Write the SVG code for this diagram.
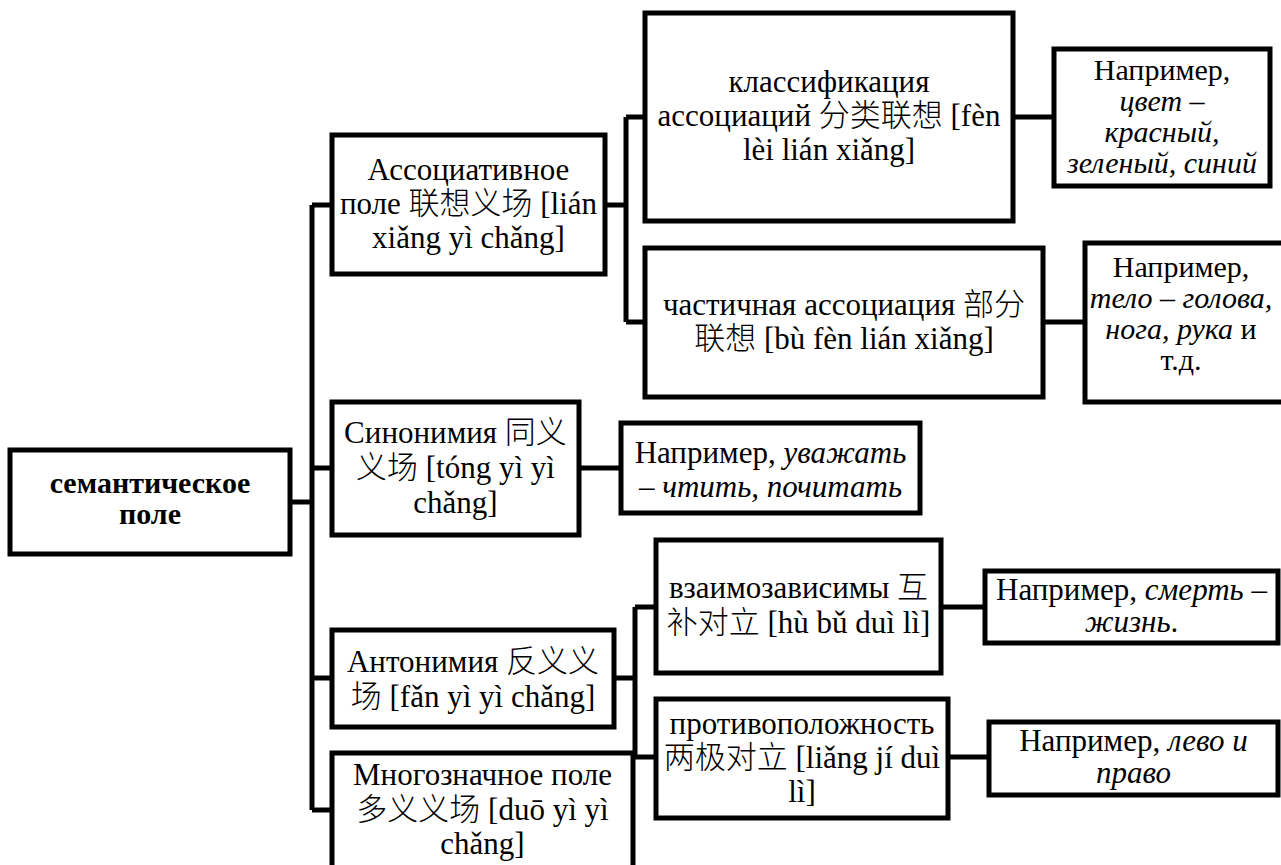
<svg xmlns="http://www.w3.org/2000/svg" width="1281" height="865" viewBox="0 0 1281 865">
<style>
rect.box{fill:#fff;stroke:#000;stroke-width:5}
#connectors path{fill:none;stroke:#000;stroke-width:5}
text{font-family:"Liberation Serif","Noto Sans CJK SC",serif;font-size:31px;font-weight:300;fill:#000;text-anchor:middle}
text.b{font-weight:bold;font-size:30px}
text.s{font-size:30px}
.i{font-style:italic}
</style>
<rect width="1281" height="865" fill="#fff"/>
<g id="connectors">
<path d="M290,502H312M312,205V810M312,205H332M312,468H332M312,678H332M312,810H332"/>
<path d="M605,205H626M626,117V322M626,117H645M626,322H645"/>
<path d="M1013,117H1054M1043,322H1085M579,468H621"/>
<path d="M614,678H635M635,607V757M635,607H656M635,757H656"/>
<path d="M941,607H985M948,757H989"/>
</g>
<g id="root"><rect class="box" x="10" y="450" width="280" height="104"/>
<text class="b"><tspan x="150" y="493">семантическое</tspan><tspan x="150" y="524">поле</tspan></text></g>
<g id="assoc"><rect class="box" x="332" y="135" width="273" height="139"/>
<text><tspan x="468.5" y="180">Ассоциативное</tspan><tspan x="468.5" y="214">поле 联想义场 [lián</tspan><tspan x="468.5" y="248">xiǎng yì chǎng]</tspan></text></g>
<g id="classif"><rect class="box" x="645" y="13" width="368" height="208"/>
<text><tspan x="829" y="92">классификация</tspan><tspan x="829" y="126">ассоциаций 分类联想 [fèn</tspan><tspan x="829" y="160">lèi lián xiǎng]</tspan></text></g>
<g id="ex1"><rect class="box" x="1054" y="49" width="216" height="137"/>
<text class="s"><tspan x="1162" y="80">Например,</tspan><tspan x="1162" y="111" class="i">цвет –</tspan><tspan x="1162" y="142" class="i">красный,</tspan><tspan x="1162" y="173" class="i">зеленый, синий</tspan></text></g>
<g id="partial"><rect class="box" x="645" y="248" width="398" height="149"/>
<text><tspan x="844" y="315">частичная ассоциация 部分</tspan><tspan x="844" y="349">联想 [bù fèn lián xiǎng]</tspan></text></g>
<g id="ex2"><rect class="box" x="1085" y="243" width="210" height="159"/>
<text class="s"><tspan x="1181" y="277">Например,</tspan><tspan x="1181" y="308" class="i">тело – голова,</tspan><tspan x="1181" y="339"><tspan class="i">нога, рука</tspan> и</tspan><tspan x="1181" y="370">т.д.</tspan></text></g>
<g id="synonym"><rect class="box" x="332" y="402" width="247" height="133"/>
<text><tspan x="455.5" y="443">Синонимия 同义</tspan><tspan x="455.5" y="478">义场 [tóng yì yì</tspan><tspan x="455.5" y="513">chǎng]</tspan></text></g>
<g id="ex3"><rect class="box" x="621" y="423" width="299" height="90"/>
<text><tspan x="770.5" y="463">Например, <tspan class="i">уважать</tspan></tspan><tspan x="770.5" y="497" class="i">– чтить, почитать</tspan></text></g>
<g id="antonym"><rect class="box" x="332" y="630" width="282" height="97"/>
<text><tspan x="473" y="672">Антонимия 反义义</tspan><tspan x="473" y="707">场 [fǎn yì yì chǎng]</tspan></text></g>
<g id="polysemy"><rect class="box" x="332" y="753" width="301" height="150"/>
<text><tspan x="482.5" y="785">Многозначное поле</tspan><tspan x="482.5" y="820">多义义场 [duō yì yì</tspan><tspan x="482.5" y="854">chǎng]</tspan></text></g>
<g id="interdep"><rect class="box" x="656" y="540" width="285" height="133"/>
<text><tspan x="798.5" y="598">взаимозависимы 互</tspan><tspan x="798.5" y="633">补对立 [hù bǔ duì lì]</tspan></text></g>
<g id="ex4"><rect class="box" x="985" y="571" width="293" height="72"/>
<text><tspan x="1131.5" y="600">Например, <tspan class="i">смерть –</tspan></tspan><tspan x="1131.5" y="632"><tspan class="i">жизнь</tspan>.</tspan></text></g>
<g id="opposite"><rect class="box" x="656" y="699" width="292" height="119"/>
<text><tspan x="802" y="734">противоположность</tspan><tspan x="802" y="768">两极对立 [liǎng jí duì</tspan><tspan x="802" y="802">lì]</tspan></text></g>
<g id="ex5"><rect class="box" x="989" y="722" width="289" height="73"/>
<text><tspan x="1133.5" y="751">Например, <tspan class="i">лево и</tspan></tspan><tspan x="1133.5" y="783" class="i">право</tspan></text></g>
</svg>
